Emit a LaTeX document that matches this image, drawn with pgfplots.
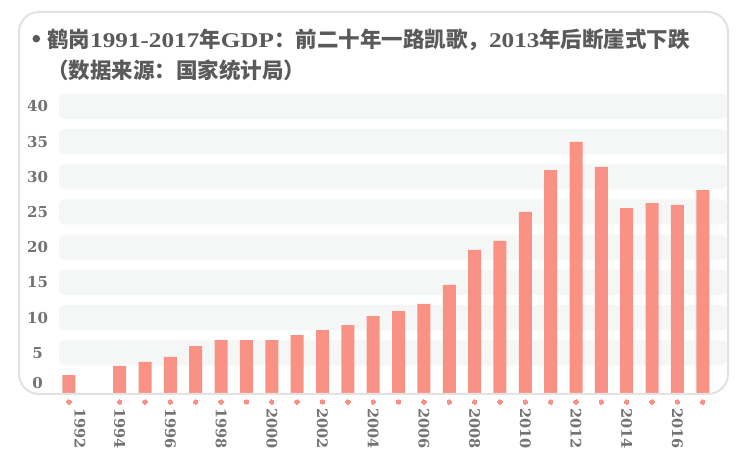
\documentclass[border=0pt]{standalone}
\usepackage{pgfplots}
\pgfplotsset{compat=1.18}
\usepackage{fontspec}
\setmainfont{Liberation Serif}
\newfontfamily\cjk{Noto Sans CJK SC}
\newfontfamily\dvs{DejaVu Serif}
\newfontfamily\tlat{Liberation Serif}[FakeStretch=1.2]
\definecolor{barc}{RGB}{249,146,132}
\definecolor{bandc}{RGB}{245,246,246}
\definecolor{cardc}{RGB}{226,226,226}
\definecolor{titlec}{RGB}{90,90,90}
\definecolor{labc}{RGB}{115,115,115}
\pgfplotstableread{
year gdp
1992 2.84
1994 4.12
1995 4.69
1996 5.40
1997 6.96
1998 7.81
1999 7.81
2000 7.81
2001 8.52
2002 9.23
2003 9.94
2004 11.22
2005 11.93
2006 12.93
2007 15.63
2008 20.60
2009 21.90
2010 26.00
2011 31.96
2012 35.94
2013 32.40
2014 26.56
2015 27.27
2016 26.99
2017 29.10
}\gdpdata
\pgfplotstableread{
year y
1992 -0.99
1994 -0.99
1995 -0.99
1996 -0.99
1997 -0.99
1998 -0.99
1999 -0.99
2000 -0.99
2001 -0.99
2002 -0.99
2003 -0.99
2004 -0.99
2005 -0.99
2006 -0.99
2007 -0.99
2008 -0.99
2009 -0.99
2010 -0.99
2011 -0.99
2012 -0.99
2013 -0.99
2014 -0.99
2015 -0.99
2016 -0.99
2017 -0.99
}\dotdata
\begin{document}
\begin{tikzpicture}[x=1bp,y=1bp]
\fill[white] (0,0) rectangle (750,460);
% background stripes
\foreach \v in {5,10,...,40}{
  \fill[bandc, rounded corners=5bp] (59,{72+7.04*\v-12.5}) rectangle (727,{72+7.04*\v+12.5});
}
\begin{axis}[
  at={(59bp,65bp)}, anchor=south west,
  scale only axis, width=669bp, height=301bp,
  xmin=1991.606, xmax=2017.996,
  ymin=0, ymax=42.76,
  clip=false,
  axis line style={draw=none},
  major tick length=0pt,
  ytick={5,10,...,40},
  extra y ticks={0},
  extra y tick labels={0},
  extra y tick style={yticklabel style={yshift=5bp}},
  yticklabel style={font=\dvs\bfseries\fontsize{15bp}{18bp}\selectfont, text=labc,
     anchor=center, inner sep=0pt, xshift=-21.5bp, yshift=7bp},
  xtick={1992.43,1994,1996,...,2016},
  xticklabels={1992,1994,1996,1998,2000,2002,2004,2006,2008,2010,2012,2014,2016},
  xticklabel style={font=\dvs\bfseries\fontsize{14.5bp}{17bp}\selectfont, text=labc,
     rotate=-90, anchor=west, inner sep=0pt},
  xticklabel shift=13bp,
  /pgf/number format/assume math mode=true,
]
\addplot[ybar, bar width=13bp, fill=barc, draw=none] table[x=year, y=gdp] {\gdpdata};
\addplot[only marks, color=barc, mark=*, mark size=2.2bp, mark options={fill=barc, draw=barc, line width=0pt}] table[x=year, y=y] {\dotdata};
\end{axis}
% card border
\draw[cardc, line width=2bp, rounded corners=20bp] (19,66) rectangle (728,448);
% title
\fill[titlec] (36.3,421.3) circle (3.8bp);
\node[anchor=west, inner sep=0pt, text=titlec] at (47,420)
  {\fontsize{21.5bp}{25bp}\selectfont\bfseries {\cjk 鹤岗}{\tlat\fontsize{21bp}{25bp}\selectfont 1991-2017}{\cjk 年}{\tlat\fontsize{21bp}{25bp}\selectfont GDP}{\cjk ：前二十年一路凯歌，}{\tlat\fontsize{21bp}{25bp}\selectfont 2013}{\cjk 年后断崖式下跌}};
\node[anchor=west, inner sep=0pt, text=titlec] at (47,390)
  {\fontsize{21.5bp}{25bp}\selectfont\bfseries {\cjk （数据来源：国家统计局）}};
\end{tikzpicture}
\end{document}
